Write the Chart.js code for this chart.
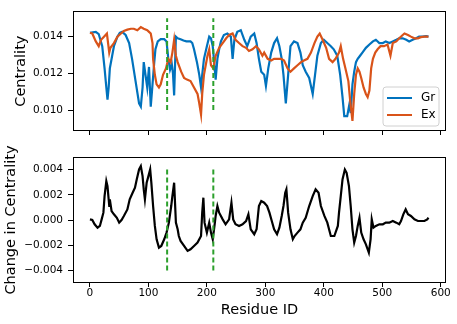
<!DOCTYPE html>
<html>
<head>
<meta charset="utf-8">
<script src="https://cdn.jsdelivr.net/npm/chart.js@4/dist/chart.umd.min.js"></script>
<style>
  body { margin: 0; background: #fff; }
  #wrap { position: relative; width: 457px; height: 324px; }
  canvas { position: absolute; left: 0; }
</style>
</head>
<body>
<div id="wrap">
  <canvas id="centrality-chart" width="457" height="145" style="top:0px"></canvas>
  <canvas id="change-chart" width="457" height="179" style="top:145px"></canvas>
</div>
<script>
// values (residue id -> centrality)
var grResidue = [0,5,10,15,21,25,28,30,32,34,38,41,47,51,55,61,67,72,78,84,87,90,92,95,98,101,104,107,110,112,116,121,127,131,134,137,140,142,144,147,150,155,160,165,172,175,178,183,187,190,192,195,200,204,207,210,212,215,218,221,224,229,235,241,244,247,252,258,264,269,275,281,285,289,293,298,301,305,310,315,320,324,328,331,335,339,343,349,355,360,364,369,375,381,385,389,395,400,406,412,417,423,428,432,435,440,444,446,449,452,455,458,462,466,472,478,484,489,495,501,506,512,518,524,529,535,541,546,552,558,563,569,575,579];
var grValues = [0.01421,0.01424,0.01426,0.01414,0.01348,0.01227,0.01123,0.01057,0.01123,0.01227,0.01296,0.01348,0.0140,0.01421,0.01426,0.01409,0.01365,0.01279,0.01158,0.01036,0.01019,0.01123,0.01261,0.01192,0.01123,0.01235,0.01019,0.0114,0.01261,0.01331,0.01374,0.01386,0.01386,0.01374,0.0128,0.0122,0.0125,0.0120,0.0108,0.0140,0.01391,0.01386,0.01379,0.01374,0.01374,0.01365,0.01331,0.01261,0.01192,0.01123,0.01192,0.01279,0.01348,0.0140,0.01391,0.01348,0.01279,0.01166,0.01279,0.01331,0.01374,0.01409,0.01417,0.0140,0.01279,0.01383,0.01426,0.01435,0.01383,0.01348,0.0140,0.01417,0.01365,0.01279,0.01209,0.01192,0.01132,0.01227,0.01313,0.01365,0.01391,0.01348,0.01279,0.01192,0.01036,0.01192,0.01348,0.01374,0.01365,0.01313,0.01244,0.01209,0.01175,0.01088,0.01192,0.01296,0.01365,0.01383,0.01365,0.01348,0.01331,0.01296,0.01192,0.01071,0.00967,0.00967,0.01036,0.00984,0.0114,0.01209,0.01261,0.01279,0.01296,0.01313,0.01339,0.01357,0.01374,0.01383,0.01365,0.01365,0.01374,0.01365,0.01374,0.01383,0.01391,0.01391,0.01383,0.01374,0.01383,0.01391,0.0140,0.0140,0.01403,0.0140];

var exResidue = [0,4,10,15,19,24,29,33,35,41,47,53,58,64,70,75,81,87,92,98,101,104,107,108,111,114,118,121,125,130,134,138,141,144,147,150,156,161,166,172,178,184,187,190,192,195,198,201,204,207,211,215,221,227,233,238,244,249,255,261,267,272,278,284,289,295,298,304,310,315,321,327,332,338,343,349,355,361,366,372,378,384,389,393,398,404,409,415,420,426,429,433,437,442,445,449,452,455,458,461,464,468,472,475,478,481,484,488,492,497,503,509,514,518,524,529,535,538,544,549,555,561,566,572,579];
var exValues = [0.01421,0.01417,0.01374,0.01348,0.01383,0.0140,0.01417,0.01313,0.01339,0.01365,0.0140,0.01417,0.01431,0.01438,0.01443,0.01443,0.01435,0.01452,0.01443,0.01435,0.01426,0.01417,0.01365,0.01279,0.01192,0.0114,0.01123,0.0114,0.01192,0.01227,0.01279,0.01261,0.01313,0.01383,0.01296,0.01261,0.01209,0.01175,0.01166,0.01158,0.01123,0.01088,0.01036,0.00976,0.01088,0.01192,0.01244,0.01296,0.01331,0.01244,0.01227,0.01296,0.01339,0.01365,0.01391,0.01409,0.01417,0.01383,0.01365,0.01348,0.01339,0.01322,0.01331,0.01348,0.01331,0.01296,0.01313,0.01279,0.0127,0.01279,0.01279,0.01279,0.0127,0.01227,0.01209,0.01227,0.01244,0.01261,0.0127,0.01279,0.01313,0.01365,0.0140,0.01417,0.01383,0.01339,0.01279,0.01261,0.01279,0.01313,0.01348,0.01279,0.01227,0.01158,0.01054,0.00941,0.01088,0.01192,0.01227,0.01209,0.01175,0.01123,0.01088,0.01071,0.01106,0.01227,0.01279,0.01313,0.01331,0.01348,0.01348,0.01357,0.01296,0.01365,0.01374,0.01391,0.01409,0.01417,0.01409,0.0140,0.01391,0.01391,0.01397,0.0140,0.0140];

var diffResidue = [0,4,8,13,17,20,23,25,28,30,33,34,37,41,46,50,54,58,64,68,73,77,80,84,87,90,92,94,97,100,103,105,108,111,114,118,122,127,131,135,139,141,144,147,150,152,155,161,167,172,178,184,190,192,194,196,200,204,207,210,213,215,218,221,227,232,238,242,245,249,255,261,267,271,275,281,285,289,293,298,303,307,311,315,320,324,328,331,334,336,339,343,347,350,355,360,364,369,375,381,386,391,395,401,406,412,418,424,426,429,432,436,439,443,446,449,452,455,458,461,464,468,472,477,480,482,485,489,495,501,506,512,518,524,529,532,536,540,544,549,555,561,566,572,577,579];
var diffValues = [0.00005,0,-0.00034,-0.00061,-0.00047,0.00005,0.00058,0.0019,0.00309,0.00269,0.00111,0.00164,0.00071,0.00045,0.00018,-0.00021,0,0.00032,0.00084,0.00164,0.00216,0.00256,0.00322,0.00401,0.00427,0.00348,0.00243,0.00164,0.00296,0.00348,0.00401,0.00296,0.00111,-0.00047,-0.00153,-0.00219,-0.00206,-0.00153,-0.001,-0.00021,0.00111,0.0019,0.00296,-0.00021,-0.00074,-0.00127,-0.00166,-0.00206,-0.00245,-0.00232,-0.00206,-0.00179,-0.00127,0.00058,0.00177,-0.00021,-0.001,-0.00021,-0.001,-0.00153,-0.00047,0.00032,0.00111,0.00058,0.00005,-0.00034,0.00005,0.00137,0.00005,-0.00034,-0.00047,-0.00034,-0.00008,0.00045,-0.00074,-0.00113,-0.00074,0.00111,0.0015,0.00137,0.00111,0.00058,-0.00008,-0.00074,-0.00113,-0.00061,0.00032,0.00111,0.00216,0.00243,0.00058,-0.00074,-0.00153,-0.00127,-0.001,-0.00074,-0.00021,0.00018,0.00111,0.0019,0.00243,0.00216,0.00111,0.00032,-0.00021,-0.00127,-0.00127,-0.00047,0.00058,0.0019,0.00322,0.00401,0.00375,0.00269,0.00111,-0.00074,-0.00179,-0.00127,-0.00047,0.00018,-0.001,-0.00153,-0.00193,-0.00259,-0.00153,0.00005,-0.00061,-0.00047,-0.00034,-0.00034,-0.00021,-0.00021,-0.00008,-0.00021,-0.00034,-0.00008,0.00045,0.00084,0.00045,0.00032,0.00005,-0.00008,-0.00008,-0.00008,0.00005,0.00018];

// dashed marker residues and their vertical extents
var markResidues = [132, 211];
var markTopRange = [0.010, 0.015];
var markDiffRange = [-0.004, 0.004];

var xTicks = [0, 100, 200, 300, 400, 500, 600];
var topTicks = [0.010, 0.012, 0.014];
var diffTicks = [-0.004, -0.002, 0.000, 0.002, 0.004];

var GR_COLOR = "#0072bd";
var EX_COLOR = "#d95319";
var MARK_COLOR = "#2ca02c";

function toPoints(xs, ys) {
  var pts = [];
  for (var i = 0; i < xs.length; i++) {
    pts.push({ x: xs[i], y: ys[i] });
  }
  return pts;
}

function fmt(v) {
  var s = Math.abs(v).toFixed(3);
  return v < -1e-9 ? "\u2212" + s : s;
}

function markDatasets(range) {
  var sets = [];
  for (var i = 0; i < markResidues.length; i++) {
    sets.push({
      data: [{ x: markResidues[i], y: range[0] }, { x: markResidues[i], y: range[1] }],
      borderColor: MARK_COLOR,
      borderWidth: 2,
      borderDash: [5, 3],
      pointRadius: 0,
      order: -1
    });
  }
  return sets;
}

// matplotlib style frame around the plot area
var framePlugin = {
  id: "frame",
  afterDraw: function (chart) {
    var a = chart.chartArea;
    var ctx = chart.ctx;
    ctx.save();
    ctx.strokeStyle = "#000";
    ctx.lineWidth = 1;
    ctx.strokeRect(Math.round(a.left) + 0.5, Math.round(a.top) + 0.5,
      Math.round(a.right - a.left) - 1, Math.round(a.bottom - a.top) - 1);
    ctx.restore();
  }
};

var legendPlugin = {
  id: "boxLegend",
  afterDraw: function (chart) {
    var a = chart.chartArea;
    var ctx = chart.ctx;
    var bx = a.right - 63, by = a.bottom - 44, bw = 56, bh = 39, r = 3;
    ctx.save();
    ctx.beginPath();
    ctx.moveTo(bx + r, by);
    ctx.arcTo(bx + bw, by, bx + bw, by + bh, r);
    ctx.arcTo(bx + bw, by + bh, bx, by + bh, r);
    ctx.arcTo(bx, by + bh, bx, by, r);
    ctx.arcTo(bx, by, bx + bw, by, r);
    ctx.closePath();
    ctx.fillStyle = "rgba(255,255,255,0.8)";
    ctx.fill();
    ctx.strokeStyle = "#d0d0d0";
    ctx.lineWidth = 1;
    ctx.stroke();
    var items = [["Gr", GR_COLOR], ["Ex", EX_COLOR]];
    ctx.font = "12px 'DejaVu Sans'";
    ctx.textBaseline = "middle";
    for (var i = 0; i < items.length; i++) {
      var y = by + 11 + i * 17;
      ctx.strokeStyle = items[i][1];
      ctx.lineWidth = 2;
      ctx.beginPath();
      ctx.moveTo(bx + 4, y);
      ctx.lineTo(bx + 29, y);
      ctx.stroke();
      ctx.fillStyle = "#000";
      ctx.fillText(items[i][0], bx + 38, y);
    }
    ctx.restore();
  }
};

function setTicks(values) {
  return function (scale) {
    scale.ticks = values.map(function (v) { return { value: v }; });
  };
}

window.onload = function () {
  Chart.defaults.font.family = "'DejaVu Sans', sans-serif";
  Chart.defaults.color = "#000";

  new Chart(document.getElementById("centrality-chart"), {
    type: "line",
    data: {
      datasets: [{
        label: "Gr",
        data: toPoints(grResidue, grValues),
        borderColor: GR_COLOR,
        borderWidth: 2.2,
        pointRadius: 0,
        order: 1
      }, {
        label: "Ex",
        data: toPoints(exResidue, exValues),
        borderColor: EX_COLOR,
        borderWidth: 2.2,
        pointRadius: 0,
        order: 0
      }].concat(markDatasets(markTopRange))
    },
    options: {
      responsive: false,
      animation: false,
      devicePixelRatio: 1,
      layout: { padding: { top: 5, right: 11, left: 0, bottom: 0 } },
      plugins: { legend: { display: false }, tooltip: { enabled: false } },
      scales: {
        x: {
          type: "linear", min: -29, max: 609,
          afterBuildTicks: setTicks(xTicks),
          afterFit: function (s) { s.height = 14; },
          grid: { drawOnChartArea: false, tickLength: 4, color: "#000" },
          border: { display: false },
          ticks: { display: false }
        },
        y: {
          min: 0.00886, max: 0.01538,
          afterBuildTicks: setTicks(topTicks),
          afterFit: function (s) { s.width = 73; },
          grid: { drawOnChartArea: false, tickLength: 5, color: "#000" },
          border: { display: false },
          ticks: { font: { size: 10.5 }, padding: 5, callback: function (v) { return fmt(v); } },
          title: { display: true, text: "Centrality", font: { size: 14.5 }, padding: { top: 13, bottom: 0 } }
        }
      }
    },
    plugins: [framePlugin, legendPlugin]
  });

  new Chart(document.getElementById("change-chart"), {
    type: "line",
    data: {
      datasets: [{
        label: "Change",
        data: toPoints(diffResidue, diffValues),
        borderColor: "#000",
        borderWidth: 2.2,
        pointRadius: 0,
        order: 1
      }].concat(markDatasets(markDiffRange))
    },
    options: {
      responsive: false,
      animation: false,
      devicePixelRatio: 1,
      layout: { padding: { top: 12, right: 11, left: 0, bottom: 0 } },
      plugins: { legend: { display: false }, tooltip: { enabled: false } },
      scales: {
        x: {
          type: "linear", min: -29, max: 609,
          afterBuildTicks: setTicks(xTicks),
          afterFit: function (s) { s.height = 41; },
          grid: { drawOnChartArea: false, tickLength: 4, color: "#000" },
          border: { display: false },
          ticks: { font: { size: 10.5 }, padding: 0, maxRotation: 0 },
          title: { display: true, text: "Residue ID", font: { size: 14.5 }, padding: { top: 0, bottom: 5 } }
        },
        y: {
          min: -0.005, max: 0.005,
          afterBuildTicks: setTicks(diffTicks),
          afterFit: function (s) { s.width = 73; },
          grid: { drawOnChartArea: false, tickLength: 5, color: "#000" },
          border: { display: false },
          ticks: { font: { size: 10.5 }, padding: 5, callback: function (v) { return fmt(v); } },
          title: { display: true, text: "Change in Centrality", font: { size: 14.5 }, padding: { top: 3, bottom: 0 } }
        }
      }
    },
    plugins: [framePlugin]
  });
};
</script>
</body>
</html>
